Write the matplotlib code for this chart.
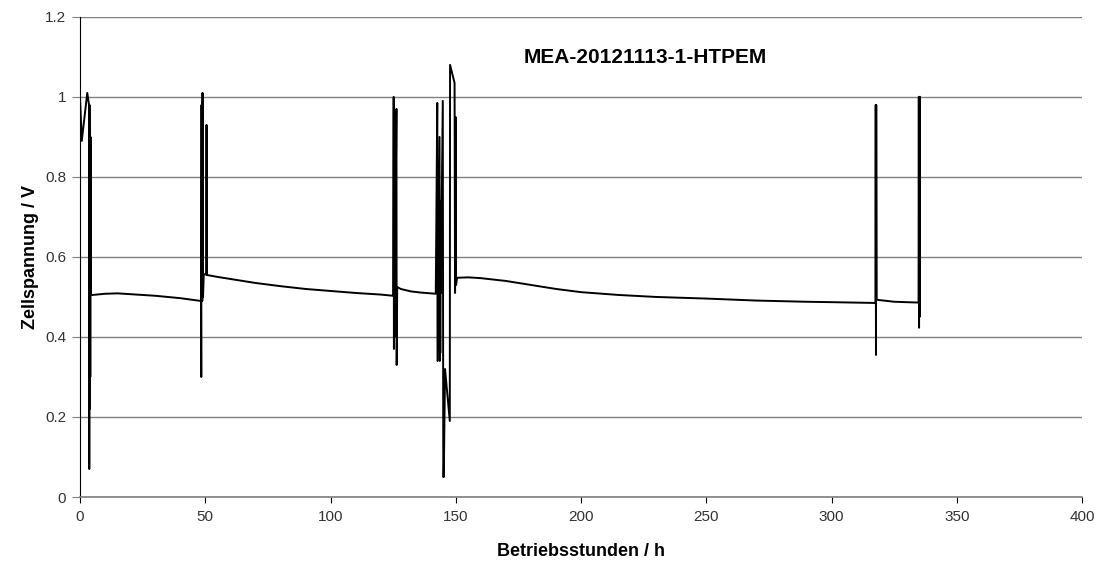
import matplotlib
matplotlib.use('Agg')
import matplotlib.pyplot as plt
from matplotlib.ticker import FormatStrFormatter, MultipleLocator

plt.rcParams['font.family'] = ['Liberation Sans', 'DejaVu Sans']

# Betriebsstunden (h) und Zellspannung (V)
hours = [
    0.0, 0.7, 2.9, 3.6, 3.7, 3.8, 3.9, 4.0, 4.1, 4.2, 4.3,
    5, 10, 15, 20, 30, 40, 48.3,
    48.4, 48.5, 48.6, 48.7, 48.8, 48.9, 49.1, 49.4, 50.4, 50.5, 50.6,
    55, 60, 70, 80, 90, 100, 110, 120, 125,
    125.2, 125.3, 125.4, 125.5, 125.6, 125.7, 126.3, 126.4, 126.6,
    128, 132, 136, 142,
    142.6, 142.7, 143.5, 143.6, 143.7, 143.8, 143.9, 144.0, 144.8, 145.0, 145.2,
    145.7, 147.6, 147.7, 149.5, 149.7, 149.9, 150.1, 150.5,
    155, 160, 170, 180, 190, 200, 215, 230, 250, 270, 290, 300, 317.5,
    317.6, 317.7, 317.8, 318.0, 325, 334.7,
    334.8, 334.9, 335.0, 335.1, 335.2,
]
voltage = [
    1.00, 0.89, 1.01, 0.98, 0.07, 0.98, 0.22, 0.95, 0.30, 0.90, 0.505,
    0.505, 0.508, 0.509, 0.507, 0.503, 0.497, 0.49,
    0.30, 0.98, 0.49, 0.985, 0.49, 1.01, 0.50, 0.557, 0.556, 0.93, 0.555,
    0.55, 0.545, 0.535, 0.527, 0.52, 0.515, 0.51, 0.506, 0.503,
    1.00, 0.37, 0.74, 0.40, 0.74, 0.50, 0.97, 0.33, 0.525,
    0.52, 0.514, 0.511, 0.508,
    0.985, 0.34, 0.90, 0.34, 0.74, 0.36, 0.74, 0.51, 0.99, 0.05, 0.05,
    0.32, 0.19, 1.08, 1.035, 0.51, 0.95, 0.53, 0.548,
    0.549, 0.547, 0.54, 0.53, 0.52, 0.512, 0.505, 0.50, 0.496, 0.491, 0.488, 0.487, 0.485,
    0.98, 0.355, 0.98, 0.493, 0.488, 0.486,
    1.00, 0.423, 1.00, 0.45, 1.00,
]

title = 'MEA-20121113-1-HTPEM'
x_label = 'Betriebsstunden / h'
y_label = 'Zellspannung / V'


def draw_plot():
    fig = plt.figure(figsize=(11.02, 5.63), dpi=100)
    ax = fig.add_axes([0.0726, 0.1172, 0.9094, 0.8528])

    ax.plot(hours, voltage, color='black', linewidth=1.4)

    ax.set_xlim(0, 400)
    ax.set_ylim(0, 1.2)
    ax.xaxis.set_major_locator(MultipleLocator(50))
    ax.yaxis.set_major_locator(MultipleLocator(0.2))
    ax.yaxis.set_major_formatter(FormatStrFormatter('%g'))
    ax.grid(axis='y', color='#808080', linewidth=1.0)
    ax.set_axisbelow(True)

    for side in ['top', 'right']:
        ax.spines[side].set_visible(False)
    ax.spines['left'].set_color('black')
    ax.spines['bottom'].set_color('#808080')
    ax.spines['bottom'].set_linewidth(1.2)
    ax.tick_params(axis='y', length=6, color='#808080', labelsize=11, labelcolor='#333333', pad=4)
    ax.tick_params(axis='x', length=4, color='black', labelsize=11, labelcolor='#333333', pad=5)

    ax.text(0.564, 0.915, title, transform=ax.transAxes, ha='center', va='center',
            fontsize=15, fontweight='bold')
    ax.set_xlabel(x_label, fontsize=13, fontweight='bold', labelpad=14)
    ax.set_ylabel(y_label, fontsize=13, fontweight='bold', labelpad=4)

    fig.savefig('out.png', dpi=100)


def main():
    draw_plot()


if __name__ == '__main__':
    main()
